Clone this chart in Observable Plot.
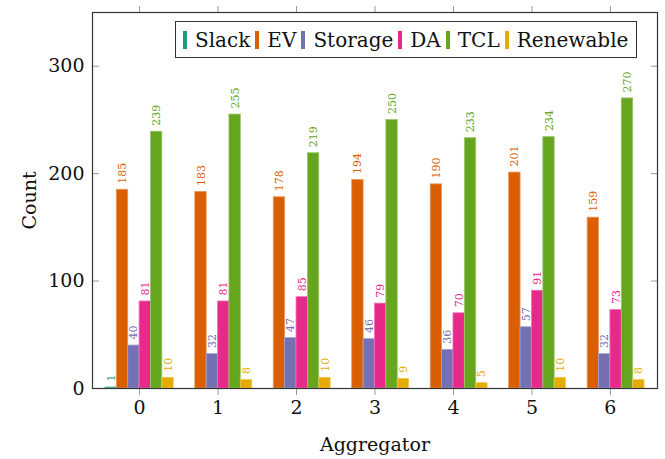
<!DOCTYPE html>
<html>
<head>
<meta charset="utf-8">
<script src="https://cdn.jsdelivr.net/npm/d3@7"></script>
<script src="https://cdn.jsdelivr.net/npm/@observablehq/plot@0.6"></script>
<style>
  body { margin: 0; background: #fff; }
  #chart { position: relative; width: 665px; height: 459px; font-family: "DejaVu Serif", serif; }
  #chart svg text { font-family: "DejaVu Serif", serif; }
  .legend {
    position: absolute; left: 175px; top: 21px; height: 37px;
    border: 1px solid #333; box-sizing: border-box; background: #fff;
    display: flex; align-items: center; padding: 0 8px 0 7px;
    font-size: 20px; color: #111; white-space: nowrap;
  }
  .legend .sw { width: 4px; height: 18px; margin-right: 8px; }
  .legend .lab { margin-right: 5px; }
  .legend .lab:last-child { margin-right: 0; }
</style>
</head>
<body>
<div id="chart"></div>
<script>
// Requests handled by each aggregator, split by flexibility type
const aggregators = [0, 1, 2, 3, 4, 5, 6];
const series = ["Slack", "EV", "Storage", "DA", "TCL", "Renewable"];
const colors = ["#1b9e77", "#d95f02", "#7570b3", "#e7298a", "#66a61e", "#e6ab02"];

const slack     = [1, 0, 0, 0, 0, 0, 0];
const ev        = [185, 183, 178, 194, 190, 201, 159];
const storage   = [40, 32, 47, 46, 36, 57, 32];
const da        = [81, 81, 85, 79, 70, 91, 73];
const tcl       = [239, 255, 219, 250, 233, 234, 270];
const renewable = [10, 8, 10, 9, 5, 10, 8];

const yTicks = [0, 100, 200, 300];

const values = [slack, ev, storage, da, tcl, renewable];
const rows = series.flatMap((s, i) =>
  aggregators.map((a, j) => ({agg: a, series: s, i, value: values[i][j]}))
);

// width of one bar, in aggregator units; bars in a group sit side by side
const bw = 0.145;
const centre = d => d.agg + (d.i - (series.length - 1) / 2) * bw;

const edge = colors.map(c => d3.interpolateRgb(c, "#fff")(0.35));

const chart = Plot.plot({
  width: 665,
  height: 459,
  marginLeft: 92,
  marginRight: 8,
  marginTop: 12,
  marginBottom: 71,
  style: {background: "#fff", color: "#111"},
  x: {domain: [-0.6, 6.6]},
  y: {domain: [0, 350]},
  color: {domain: series, range: colors},
  marks: [
    Plot.rectY(rows, {
      x1: d => centre(d) - bw / 2,
      x2: d => centre(d) + bw / 2,
      y1: 0,
      y2: "value",
      fill: "series",
      stroke: d => edge[d.i],
      strokeWidth: 0.8
    }),
    Plot.text(rows.filter(d => d.value > 0), {
      x: centre,
      y: "value",
      text: d => String(d.value),
      fill: "series",
      rotate: -90,
      textAnchor: "start",
      lineAnchor: "middle",
      dy: -6,
      fontSize: 11,
      style: "letter-spacing:1.5px"
    }),
    Plot.axisX(aggregators, {
      anchor: "bottom", tickSize: 7, tickPadding: 5, fontSize: 19,
      stroke: "#999", color: "#111",
      tickFormat: d3.format("d"),
      label: "Aggregator", labelAnchor: "center", labelOffset: 62, labelArrow: "none"
    }),
    Plot.axisX(aggregators, {
      anchor: "top", tickSize: 7, stroke: "#999", tickFormat: () => "", label: null
    }),
    Plot.axisY(yTicks, {
      anchor: "left", tickSize: -7, tickPadding: 15, fontSize: 19, stroke: "#999",
      label: "Count", labelAnchor: "center", labelOffset: 70, labelArrow: "none"
    }),
    Plot.axisY(yTicks, {
      anchor: "right", tickSize: -7, stroke: "#999", tickFormat: () => "", label: null
    }),
    Plot.frame({stroke: "#333", strokeWidth: 1.2})
  ]
});

const root = document.getElementById("chart");
root.appendChild(chart);

// legend drawn inside the plot area, top right
const legend = document.createElement("div");
legend.className = "legend";
series.forEach((s, i) => {
  const sw = document.createElement("span");
  sw.className = "sw";
  sw.style.background = colors[i];
  const lab = document.createElement("span");
  lab.className = "lab";
  lab.textContent = s;
  legend.appendChild(sw);
  legend.appendChild(lab);
});
root.appendChild(legend);
</script>
</body>
</html>
